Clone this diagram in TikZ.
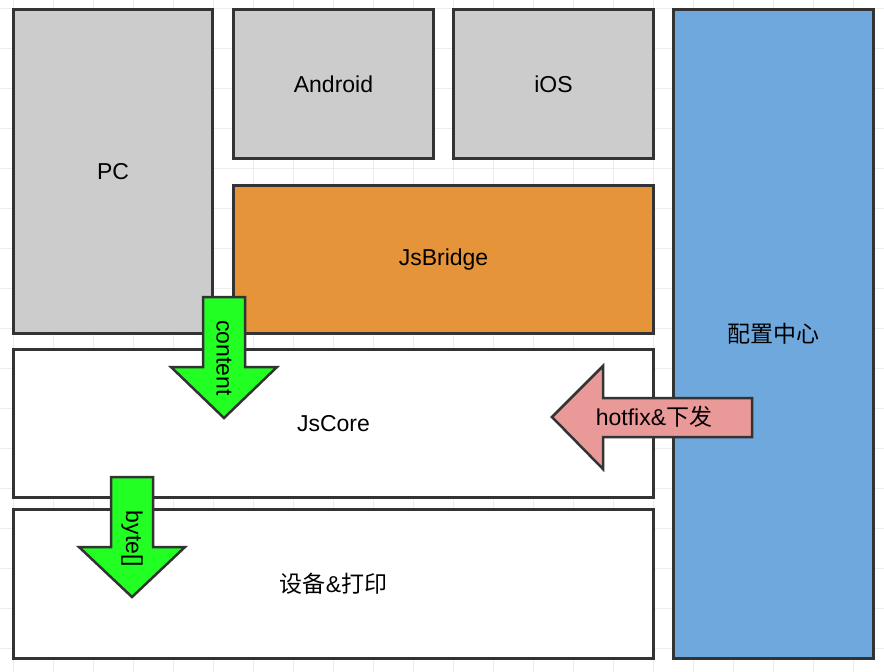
\documentclass[tikz,border=0pt]{standalone}
\usepackage{fontspec}
\setmainfont{Liberation Sans}
\newfontfamily\cjk{Noto Sans CJK SC}
\definecolor{boxgray}{HTML}{CCCCCC}
\definecolor{bridgeorange}{HTML}{E6943A}
\definecolor{configblue}{HTML}{6FA8DC}
\definecolor{flowgreen}{HTML}{22FF22}
\definecolor{hotfixpink}{HTML}{EA9999}
\definecolor{edgegray}{HTML}{333333}
\tikzstyle{gridline}=[draw=black!7,line width=0.8pt]
\tikzstyle{block}=[draw=edgegray,line width=3pt,anchor=north west,inner sep=0pt,font=\fontsize{23}{27}\selectfont]
\tikzstyle{blockarrow}=[draw=edgegray,line width=2.5pt,line join=miter]
\tikzstyle{label}=[font=\fontsize{23}{27}\selectfont,inner sep=0pt]

\begin{document}
\begin{tikzpicture}[x=1pt,y=-1pt]
    \useasboundingbox[fill=white] (0,0) rectangle (884,672);
    \foreach \gx in {13,53,...,853} \draw[gridline] (\gx,0) -- (\gx,672);
    \foreach \gy in {8,48,...,648} \draw[gridline] (0,\gy) -- (884,\gy);

    \node (pc)[block,fill=boxgray,minimum width=199pt,minimum height=324pt] at (12,8) {PC};
    \node (android)[block,fill=boxgray,minimum width=200pt,minimum height=149pt] at (232,8) {Android};
    \node (ios)[block,fill=boxgray,minimum width=200pt,minimum height=149pt] at (452,8) {iOS};
    \node (bridge)[block,fill=bridgeorange,minimum width=420pt,minimum height=148pt] at (232,184) {JsBridge};
    \node (config)[block,fill=configblue,minimum width=200pt,minimum height=649pt] at (672,8) {\cjk 配置中心};
    \node (core)[block,fill=white,minimum width=640pt,minimum height=148pt] at (12,348) {JsCore};
    \node (device)[block,fill=white,minimum width=640pt,minimum height=149pt] at (12,508) {{\cjk 设备}\&{\cjk 打印}};

    % block arrows
    \draw[blockarrow,fill=flowgreen] (203,297) -- (245,297) -- (245,367) -- (277,367) -- (224,418) -- (171,367) -- (203,367) -- cycle;
    \draw[blockarrow,fill=flowgreen] (111,477) -- (153,477) -- (153,547) -- (185,547) -- (132,597) -- (79,547) -- (111,547) -- cycle;
    \draw[blockarrow,fill=hotfixpink] (752,398) -- (603,398) -- (603,366) -- (552,417) -- (603,469) -- (603,437) -- (752,437) -- cycle;
    \node (content)[label,rotate=-90] at (224,358) {content};
    \node (bytes)[label,rotate=-90] at (132,539) {byte[]};
    \node (hotfix)[label] at (654,417) {hotfix\&{\cjk 下发}};
\end{tikzpicture}
\end{document}
